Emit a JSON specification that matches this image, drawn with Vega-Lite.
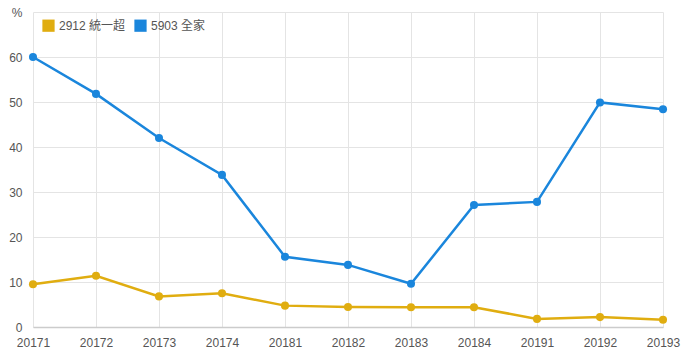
{
  "$schema": "https://vega.github.io/schema/vega-lite/v6.json",
  "autosize": {"type": "none"},
  "padding": {"left": 33, "top": 12, "right": 25, "bottom": 30},
  "width": 630,
  "height": 315,
  "background": "white",
  "config": {
    "font": "Liberation Sans, Noto Sans CJK TC",
    "view": {"stroke": null},
    "axis": {"labelFont": "Liberation Sans, Noto Sans CJK TC", "labelFontSize": 12, "labelColor": "#555555", "gridColor": "#e4e4e4", "ticks": false, "title": null}
  },
  "data": {
    "values": [
      {"period": "20171", "series": "2912 統一超", "value": 9.5},
      {"period": "20172", "series": "2912 統一超", "value": 11.4},
      {"period": "20173", "series": "2912 統一超", "value": 6.8},
      {"period": "20174", "series": "2912 統一超", "value": 7.5},
      {"period": "20181", "series": "2912 統一超", "value": 4.75},
      {"period": "20182", "series": "2912 統一超", "value": 4.45},
      {"period": "20183", "series": "2912 統一超", "value": 4.4},
      {"period": "20184", "series": "2912 統一超", "value": 4.4},
      {"period": "20191", "series": "2912 統一超", "value": 1.8},
      {"period": "20192", "series": "2912 統一超", "value": 2.2},
      {"period": "20193", "series": "2912 統一超", "value": 1.6},
      {"period": "20171", "series": "5903 全家", "value": 60.0},
      {"period": "20172", "series": "5903 全家", "value": 51.8},
      {"period": "20173", "series": "5903 全家", "value": 42.0},
      {"period": "20174", "series": "5903 全家", "value": 33.8},
      {"period": "20181", "series": "5903 全家", "value": 15.6},
      {"period": "20182", "series": "5903 全家", "value": 13.8},
      {"period": "20183", "series": "5903 全家", "value": 9.6},
      {"period": "20184", "series": "5903 全家", "value": 27.1},
      {"period": "20191", "series": "5903 全家", "value": 27.8},
      {"period": "20192", "series": "5903 全家", "value": 49.9},
      {"period": "20193", "series": "5903 全家", "value": 48.4}
    ]
  },
  "encoding": {
    "x": {
      "field": "period", "type": "ordinal",
      "scale": {"type": "point", "padding": 0},
      "axis": {"labelAngle": 0, "grid": true, "domainColor": "#cccccc", "domainWidth": 1.5, "labelPadding": 10}
    },
    "y": {
      "field": "value", "type": "quantitative",
      "scale": {"domain": [0, 70], "nice": false},
      "axis": {"values": [0, 10, 20, 30, 40, 50, 60, 70], "domain": false, "labelPadding": 11,
               "labelExpr": "datum.value == 70 ? '%' : datum.label"}
    },
    "color": {
      "field": "series", "type": "nominal",
      "scale": {"domain": ["2912 統一超", "5903 全家"], "range": ["#e0ad10", "#1a86dc"]},
      "legend": {"title": null, "orient": "none", "legendX": 9, "legendY": 7, "direction": "horizontal",
                 "symbolType": "square", "symbolSize": 150, "symbolStrokeWidth": 0, "labelFontSize": 12, "labelColor": "#555555", "columnPadding": 8, "labelOffset": 4}
    }
  },
  "layer": [
    {"mark": {"type": "line", "strokeWidth": 2.5}},
    {"mark": {"type": "point", "filled": true, "size": 65, "opacity": 1}}
  ]
}
